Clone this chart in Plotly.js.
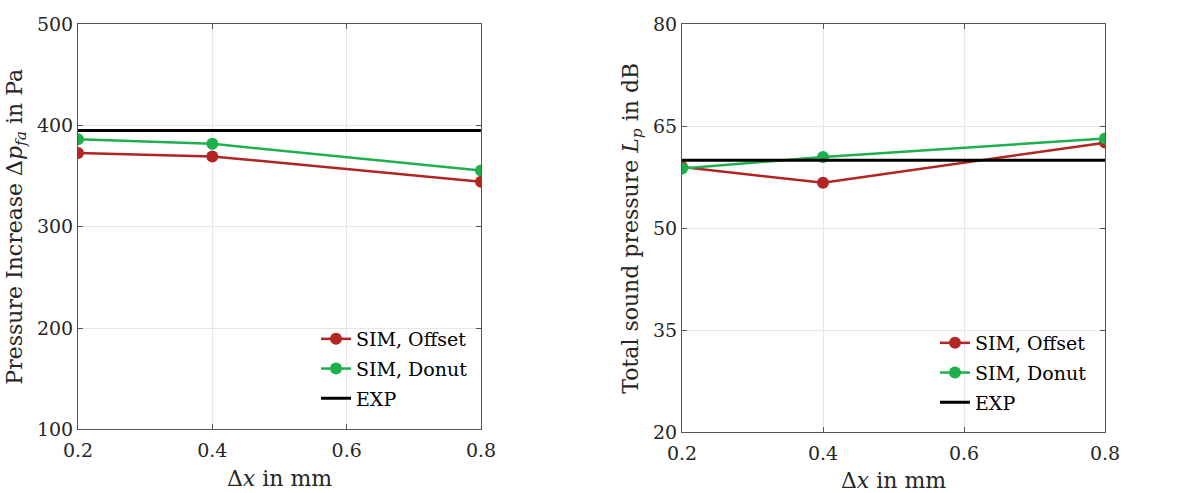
<!DOCTYPE html>
<html>
<head>
<meta charset="utf-8">
<script src="https://cdn.plot.ly/plotly-3.0.1.min.js"></script>
<style>html,body{margin:0;padding:0;background:#fff;}#chart{width:1179px;height:493px;}</style>
</head>
<body>
<div id="chart"></div>
<script>
// Data
const dx = [0.2, 0.4, 0.8];
const dxRange = [0.2, 0.8];
// Left: pressure increase (Pa)
const pressOffset = [373, 369.5, 344.5];
const pressDonut = [386.5, 382, 355.5];
const pressExp = 395;
// Right: total sound pressure level (dB)
const lpOffset = [59.0, 56.7, 62.6];
const lpDonut = [58.8, 60.5, 63.2];
const lpExp = 60.0;
const names = ['SIM, Offset', 'SIM, Donut', 'EXP'];

const red = '#B22522';
const green = '#1DB04C';
const fontFam = 'DejaVu Serif';
const H = 493, W = 1179;

function tr(x, y, name, color, xa, ya, leg, grp, markers) {
  const t = {x: x, y: y, name: name, mode: markers ? 'lines+markers' : 'lines',
    line: {color: color, width: markers ? 2.5 : 3}, xaxis: xa, yaxis: ya, legend: leg, legendgroup: grp};
  if (markers) t.marker = {size: 12, color: color};
  return t;
}
const traces = [
  tr(dx, pressOffset, names[0], red, 'x', 'y', 'legend', 'a1', true),
  tr(dx, pressDonut, names[1], green, 'x', 'y', 'legend', 'a2', true),
  tr(dxRange, [pressExp, pressExp], names[2], '#000', 'x', 'y', 'legend', 'a3', false),
  tr(dx, lpOffset, names[0], red, 'x2', 'y2', 'legend2', 'b1', true),
  tr(dx, lpDonut, names[1], green, 'x2', 'y2', 'legend2', 'b2', true),
  tr(dxRange, [lpExp, lpExp], names[2], '#000', 'x2', 'y2', 'legend2', 'b3', false)
];

function mkFont(sz, col) { return {family: fontFam, size: sz, color: col}; }
const common = {
  ticks: 'inside', ticklen: 5, tickcolor: '#555', mirror: 'ticks', showline: true, linecolor: '#555', linewidth: 1,
  showgrid: true, gridcolor: '#e6e6e6', zeroline: false, tickfont: mkFont(19, '#262626')
};
function xax(domain, anchor) {
  return Object.assign({}, common, {
    domain: domain, anchor: anchor, range: dxRange, tickvals: [0.2, 0.4, 0.6, 0.8], tickformat: '.1f',
    ticklabelstandoff: 4,
    title: {text: 'Δ<i>x</i> in mm', font: mkFont(22, '#262626'), standoff: 10}
  });
}
function yax(domain, anchor, range, dtick, title) {
  return Object.assign({}, common, {
    domain: domain, anchor: anchor, range: range, dtick: dtick, tick0: range[0],
    title: {text: title, font: mkFont(22, '#262626'), standoff: 8}
  });
}
const layout = {
  width: W, height: H,
  margin: {l: 0, r: 0, t: 0, b: 0},
  paper_bgcolor: '#fff', plot_bgcolor: '#fff',
  font: mkFont(19, '#262626'),
  showlegend: true,
  xaxis: xax([78/W, 481/W], 'y'),
  yaxis: yax([1 - 429.3/H, 1 - 24.3/H], 'x', [100, 500], 100, 'Pressure Increase Δ<i>p</i><sub><i>fa</i></sub> in Pa'),
  xaxis2: xax([682/W, 1105/W], 'y2'),
  yaxis2: yax([1 - 432.3/H, 1 - 24.3/H], 'x2', [20, 80], 15, 'Total sound pressure <i>L</i><sub><i>p</i></sub> in dB'),
  legend: {x: 316/W, y: 1 - 320/H, xanchor: 'left', yanchor: 'top', bgcolor: 'rgba(0,0,0,0)', font: mkFont(19, '#000'), tracegroupgap: 2, itemwidth: 30},
  legend2: {x: 935/W, y: 1 - 324/H, xanchor: 'left', yanchor: 'top', bgcolor: 'rgba(0,0,0,0)', font: mkFont(19, '#000'), tracegroupgap: 2, itemwidth: 30}
};
Plotly.newPlot('chart', traces, layout, {displayModeBar: false, staticPlot: true});
</script>
</body>
</html>
